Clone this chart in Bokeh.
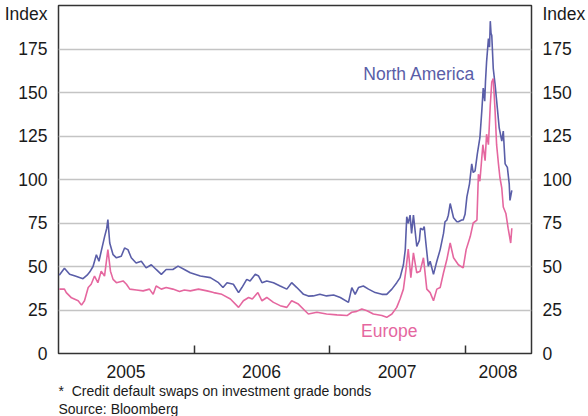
import pandas as pd
from bokeh.plotting import figure
from bokeh.models import FixedTicker, LinearAxis, Label, Range1d, Title
from bokeh.embed import file_html
from bokeh.resources import INLINE

# ---------------- data ----------------
na_dates = ["2005-01-03","2005-01-10","2005-01-17","2005-01-31","2005-02-15","2005-03-08","2005-03-19","2005-03-26",
            "2005-04-04","2005-04-13","2005-04-20","2005-04-26","2005-05-05","2005-05-11","2005-05-14","2005-05-19",
            "2005-05-28","2005-06-06","2005-06-19","2005-06-28","2005-07-07","2005-07-16","2005-07-29","2005-08-12",
            "2005-08-25","2005-09-08","2005-09-21","2005-10-05","2005-10-18","2005-11-05","2005-11-19","2005-12-06",
            "2005-12-22","2006-01-18","2006-02-14","2006-03-08","2006-03-20","2006-03-31","2006-04-17","2006-05-01",
            "2006-05-10","2006-05-23","2006-06-01","2006-06-15","2006-06-24","2006-07-03","2006-07-16","2006-08-03",
            "2006-08-21","2006-09-08","2006-09-21","2006-10-05","2006-10-23","2006-11-05","2006-11-18","2006-12-06",
            "2006-12-24","2007-01-12","2007-01-30","2007-02-21","2007-03-02","2007-03-11","2007-03-20","2007-04-02",
            "2007-04-16","2007-05-04","2007-05-22","2007-06-04","2007-06-18","2007-07-01","2007-07-10","2007-07-19",
            "2007-07-24","2007-07-28","2007-08-01","2007-08-06","2007-08-10","2007-08-15","2007-08-24","2007-08-31",
            "2007-09-03","2007-09-09","2007-09-13","2007-09-18","2007-09-24","2007-09-29","2007-10-08","2007-10-17",
            "2007-10-26","2007-11-04","2007-11-08","2007-11-13","2007-11-17","2007-11-22","2007-12-01","2007-12-10",
            "2007-12-14","2007-12-23","2007-12-27","2008-01-01","2008-01-06","2008-01-13","2008-01-19","2008-01-23",
            "2008-01-28","2008-02-03","2008-02-10","2008-02-15","2008-02-19","2008-02-23","2008-02-25","2008-02-28",
            "2008-03-04","2008-03-07","2008-03-09","2008-03-11","2008-03-13","2008-03-17","2008-03-22","2008-03-28",
            "2008-04-02","2008-04-09","2008-04-13","2008-04-18","2008-04-24","2008-04-29","2008-05-01","2008-05-06"]
na_values = [45, 47, 49, 45.5, 44.5, 43, 45, 46.8,
             50, 56.8, 53, 58.7, 67, 72, 77, 63.5,
             56.8, 55, 55.9, 60.6, 59.7, 55, 52, 53,
             49.2, 51, 48.3, 45.5, 48.3, 48.3, 50.2, 48.3,
             46.4, 44.5, 43.6, 40.7, 37.9, 40.7, 39.8, 35,
             37.9, 42.6, 41.7, 45.5, 44.5, 40.7, 41.7, 40.7,
             38.8, 37, 40.7, 37.9, 34, 33, 33.1, 34,
             33.1, 33.6, 32.2, 29.4, 37.9, 34, 37.9, 38.8,
             37, 35, 34, 34, 37, 40.7, 43.6, 51,
             59.7, 78.6, 74.8, 79.5, 69, 79.5, 61.5, 65,
             72, 71, 73, 62.5, 50.2, 53, 45.5, 53,
             59.7, 69, 75.7, 76.7, 79.5, 86.2, 78, 75.7,
             75.7, 76.7, 76.7, 80, 90, 97.5, 109, 104,
             105, 114.6, 124, 139, 152.5, 145, 156, 167.6,
             181, 176, 191, 184, 182.7, 163.8, 154.4, 141,
             129.7, 122, 127.8, 109, 107, 97.5, 88, 93.8]

eu_dates = ["2005-01-03","2005-01-17","2005-01-22","2005-02-05","2005-02-23","2005-03-04","2005-03-12","2005-03-22",
            "2005-03-30","2005-04-08","2005-04-17","2005-04-26","2005-05-05","2005-05-14","2005-05-21","2005-05-28",
            "2005-06-06","2005-06-24","2005-07-03","2005-07-12","2005-07-30","2005-08-17","2005-09-03","2005-09-13",
            "2005-09-21","2005-10-05","2005-10-18","2005-11-05","2005-11-23","2005-12-06","2005-12-22","2006-01-13",
            "2006-02-05","2006-02-23","2006-03-17","2006-04-09","2006-05-01","2006-05-14","2006-05-28","2006-06-07",
            "2006-06-22","2006-07-03","2006-07-16","2006-08-03","2006-08-21","2006-09-08","2006-09-21","2006-10-09",
            "2006-10-27","2006-11-05","2006-11-28","2006-12-24","2007-01-21","2007-02-17","2007-03-02","2007-03-15",
            "2007-03-29","2007-04-12","2007-04-29","2007-05-22","2007-06-04","2007-06-18","2007-07-01","2007-07-10",
            "2007-07-19","2007-07-26","2007-08-01","2007-08-08","2007-08-15","2007-08-24","2007-09-02","2007-09-11",
            "2007-09-20","2007-09-29","2007-10-08","2007-10-17","2007-10-26","2007-11-04","2007-11-13","2007-11-22",
            "2007-12-01","2007-12-14","2007-12-27","2008-01-04","2008-01-15","2008-01-23","2008-02-02","2008-02-06",
            "2008-02-10","2008-02-18","2008-02-24","2008-02-28","2008-03-04","2008-03-09","2008-03-13","2008-03-17",
            "2008-03-22","2008-03-26","2008-03-31","2008-04-04","2008-04-09","2008-04-13","2008-04-20","2008-04-26",
            "2008-05-03","2008-05-06"]
eu_values = [37, 37, 35, 32, 30.3, 27.8, 30.3, 37.9,
             39.8, 44.5, 40.7, 47.3, 44.5, 59.7, 47.3, 42.6,
             40.7, 41.7, 39.8, 37, 36.5, 36, 37, 34,
             38.8, 37, 37.9, 37, 35.6, 36.5, 36, 37,
             36, 35, 34, 31.3, 26.5, 30.3, 32.2, 31.3,
             35, 30.3, 32.2, 29.4, 27.5, 26.5, 30.3, 28.4,
             24.6, 22.7, 23.7, 22.7, 22.2, 21.8, 23.7, 24.2,
             25.6, 24.6, 22.7, 21.8, 20.8, 22.7, 26.5, 31.3,
             37, 48.3, 60, 43.6, 57.8, 46.4, 47.3, 55,
             37, 35, 30.3, 37, 37.9, 46.4, 54, 63.5,
             55, 51, 49.2, 59.7, 67.2, 75, 76.7, 103,
             99, 120, 110.8, 126, 120, 143, 156, 158,
             139, 120, 109, 101, 95, 84.2, 80.5, 72,
             63.5, 72]

y_ticks = [0, 25, 50, 75, 100, 125, 150, 175]
unit_tick = 195          # where the "Index" unit label sits on each y axis
unit_text = "Index"
year_labels = ["2005", "2006", "2007", "2008"]
year_label_dates = ["2005-07-02", "2006-07-02", "2007-07-02", "2008-03-30"]
year_start_dates = ["2006-01-01", "2007-01-01", "2008-01-01"]
x_start, x_end = "2005-01-01", "2008-06-28"
footnote = "*\u00a0\u00a0Credit default swaps on investment grade bonds"
source = "Source: Bloomberg"


def ms(d):
    return pd.Timestamp(d).value / 1e6


NA_COLOR = "#5a5ea8"
EU_COLOR = "#e5679f"
TXT = "#1a1a1a"
FONT = "Liberation Sans"
BIG = "17.5px"
SMALL = "14px"

p = figure(width=588, height=416, output_backend="svg", toolbar_location=None,
           x_axis_type="datetime",
           x_range=Range1d(ms(x_start), ms(x_end)), y_range=Range1d(0, 200),
           min_border_left=58, min_border_right=56, min_border_top=5, min_border_bottom=61,
           background_fill_color="white", border_fill_color="white")

p.outline_line_color = "#333333"
p.outline_line_width = 1.5
p.xgrid.grid_line_color = None
p.ygrid.grid_line_color = "#c4c4c4"
p.ygrid.grid_line_width = 1.5
p.ygrid.ticker = FixedTicker(ticks=y_ticks)

p.line(pd.to_datetime(na_dates), na_values, line_color=NA_COLOR, line_width=1.6)
p.line(pd.to_datetime(eu_dates), eu_values, line_color=EU_COLOR, line_width=1.6)

# x axis
xa = p.xaxis[0]
xa.ticker = FixedTicker(ticks=[ms(d) for d in year_label_dates],
                        minor_ticks=[ms(d) for d in year_start_dates])
xa.major_label_overrides = {ms(d): lab for d, lab in zip(year_label_dates, year_labels)}
xa.major_tick_line_color = None
xa.minor_tick_in = 8
xa.minor_tick_out = 0
xa.minor_tick_line_color = "#333333"
xa.minor_tick_line_width = 1.5
xa.axis_line_color = None
xa.major_label_standoff = 5
xa.major_label_text_font = FONT
xa.major_label_text_font_size = BIG
xa.major_label_text_color = TXT

# y axes (left + right), with the "Index" unit label as an extra tick
ya = p.yaxis[0]
ra = LinearAxis()
p.add_layout(ra, "right")
for ax in (ya, ra):
    ax.ticker = FixedTicker(ticks=y_ticks + [unit_tick])
    ax.major_label_overrides = {unit_tick: unit_text}
    ax.major_tick_line_color = None
    ax.minor_tick_line_color = None
    ax.axis_line_color = None
    ax.major_label_standoff = 5
    ax.major_label_text_font = FONT
    ax.major_label_text_font_size = BIG
    ax.major_label_text_color = TXT

# series labels (inside the frame)
p.add_layout(Label(x=ms("2007-04-02"), y=160.4, text="North America", text_align="left",
                   text_baseline="alphabetic", text_font=FONT, text_font_size=BIG,
                   text_color=NA_COLOR))
p.add_layout(Label(x=ms("2007-03-27"), y=13.2, text="Europe", text_align="left",
                   text_baseline="alphabetic", text_font=FONT, text_font_size=BIG,
                   text_color=EU_COLOR))

# footnotes as titles below the x axis
for txt in (footnote, source):
    t = Title(text=txt, align="left", text_font=FONT, text_font_size=SMALL,
              text_font_style="normal", text_color=TXT, standoff=0, offset=0)
    p.add_layout(t, "below")

open("out.html", "w").write(file_html(p, INLINE))
